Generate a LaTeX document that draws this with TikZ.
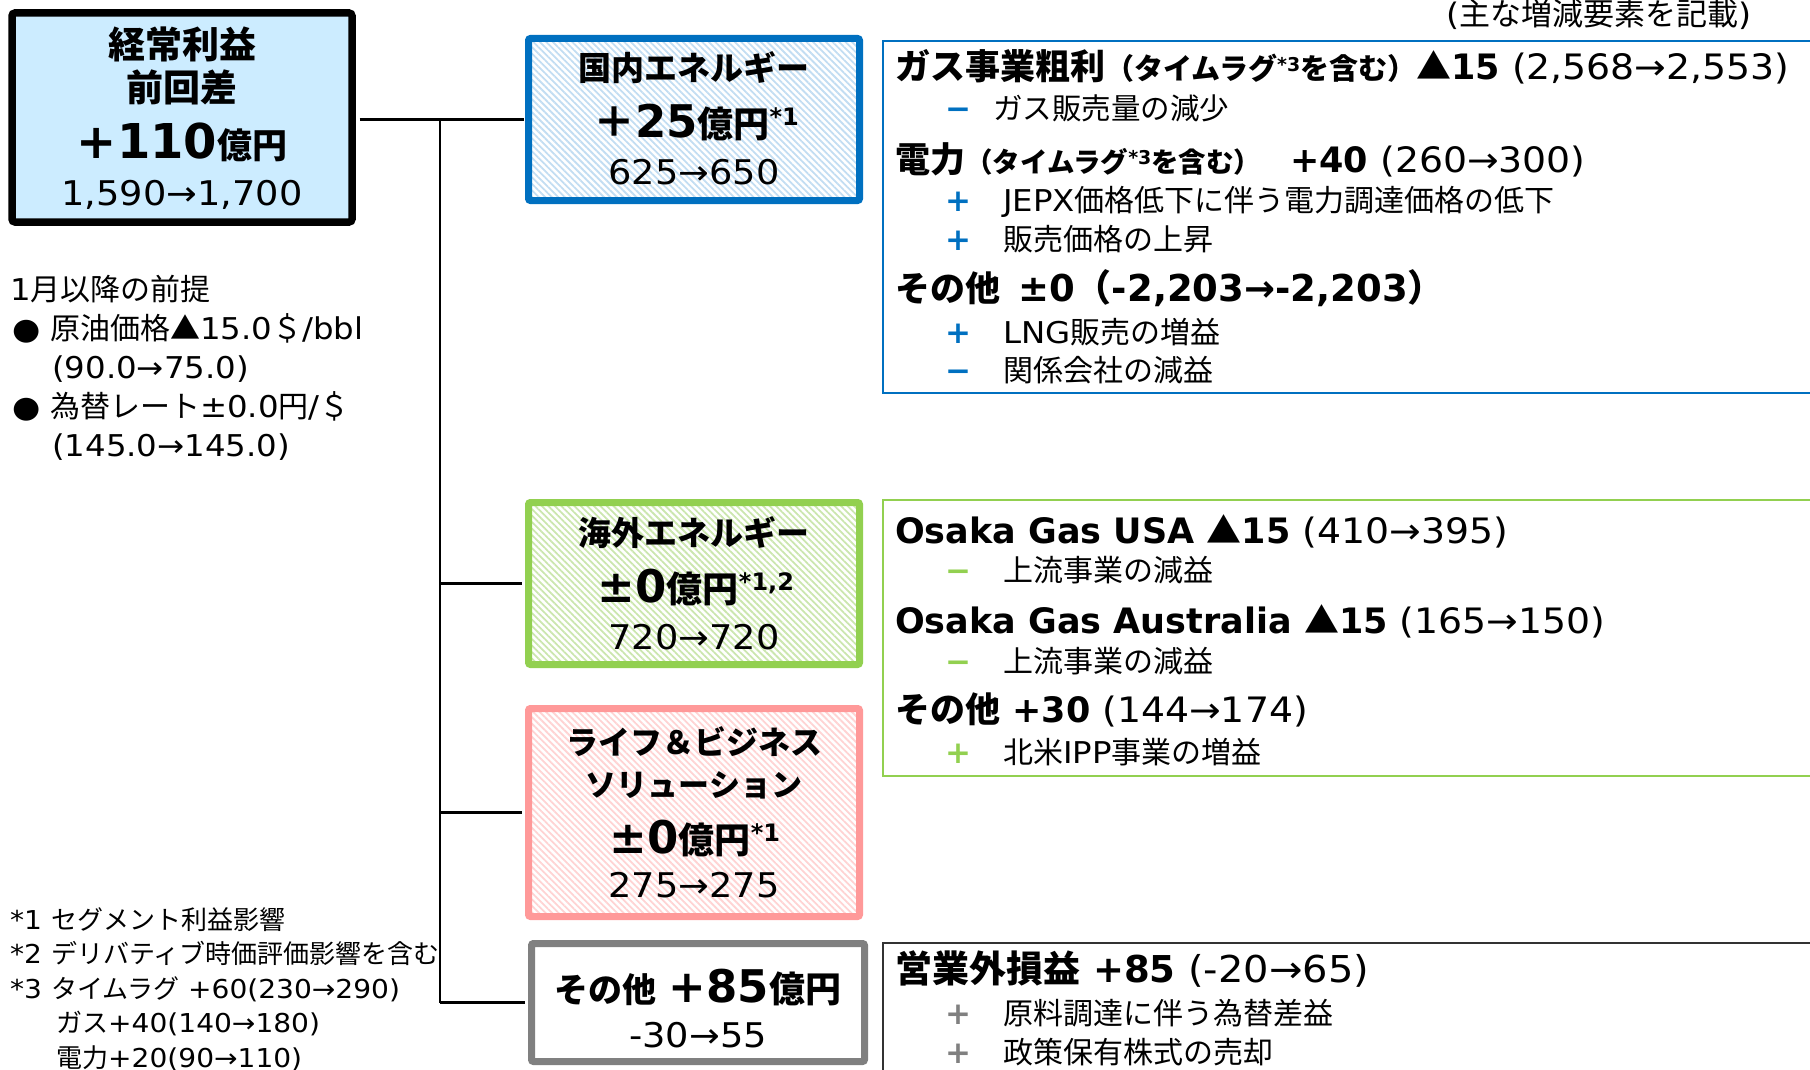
\documentclass[tikz,border=0pt]{standalone}
\usepackage{fontspec}
\setmainfont{DejaVu Sans}[UprightFeatures={FakeStretch=1.08}]
\newfontfamily\jp{Noto Sans CJK JP}
\usetikzlibrary{patterns.meta}

\definecolor{segblue}{HTML}{0070C0}
\definecolor{seggreen}{HTML}{92D050}
\definecolor{segpink}{HTML}{FF9999}
\definecolor{seggray}{HTML}{808080}
\definecolor{mainfill}{HTML}{CCECFF}
\definecolor{hatchblue}{HTML}{C2DDF2}
\definecolor{hatchgreen}{HTML}{CBE6AE}
\definecolor{hatchpink}{HTML}{FFD3D3}

\newcommand{\J}[1]{{\jp #1}}
\newcommand{\fs}[1]{\fontsize{#1}{#1}\selectfont}
\newcommand{\sups}[1]{\raisebox{12pt}{\fs{24}#1}}
\newcommand{\supsm}[1]{\raisebox{8pt}{\fs{19}#1}}

\tikzset{
  segbox/.style={draw, line width=7pt, rounded corners=2pt, minimum width=331pt,
    minimum height=162pt, inner sep=0pt},
  hatch/.style={pattern={Lines[angle=-45,distance=4.6pt,line width=1.8pt]}, pattern color=#1},
  conn/.style={line width=2.5pt},
  txt/.style={inner sep=0pt, anchor=base west},
  ctxt/.style={inner sep=0pt, anchor=base},
  sign/.style={inner sep=0pt, anchor=base west, font=\bfseries\fs{31}}
}

\begin{document}
\begin{tikzpicture}[x=1pt,y=-1pt]
\useasboundingbox (0,0) rectangle (1810,1070);

% boxes
\node[draw, line width=7.5pt, fill=mainfill, rounded corners=3pt, minimum width=340pt, minimum height=209pt, inner sep=0pt] (main) at (182,117.5) {};
\node[segbox, draw=segblue, hatch=hatchblue] (dom) at (694,119.5) {};
\node[segbox, draw=seggreen, hatch=hatchgreen] (ovs) at (694,583.5) {};
\node[segbox, draw=segpink, hatch=hatchpink, minimum height=208pt] (life) at (694,812.5) {};
\node[segbox, draw=seggray, fill=white, minimum width=333pt, minimum height=118pt] (oth) at (698,1002.5) {};

% connectors
\coordinate (trunk) at (440,0);
\draw[conn, shorten <=3.75pt, shorten >=3.5pt] (main.east |- dom.west) -- (dom.west);
\draw[conn] (trunk |- dom.west) -- (trunk |- oth.west);
\draw[conn, shorten >=3.5pt] (trunk |- ovs.west) -- (ovs.west);
\draw[conn, shorten >=3.5pt] (trunk |- life.west) -- (life.west);
\draw[conn, shorten >=3.5pt] (trunk |- oth.west) -- (oth.west);

% main box
\node[ctxt] (m1) at (182,59) {\bfseries\fs{37}\J{経常利益}};
\node[ctxt] (m2) at (182,102) {\bfseries\fs{37}\J{前回差}};
\node[ctxt] (m3) at (182,158) {\bfseries\fs{48}+110{\fs{35}\J{億円}}};
\node[ctxt] (m4) at (182,205) {\fs{34}1,590→1,700};

% segment boxes
\node[ctxt] (d1) at (694,81) {\bfseries\fs{33}\J{国内エネルギー}};
\node[ctxt] (d2) at (696,138) {\bfseries{\fs{42}\J{＋}}\fs{45}25{\fs{36}\J{億円}}\sups{*1}};
\node[ctxt] (d3) at (694,185) {\fs{34}625→650};
\node[ctxt] (g1) at (694,545) {\bfseries\fs{33}\J{海外エネルギー}};
\node[ctxt] (g2) at (696,602) {\bfseries\fs{45}±0{\fs{36}\J{億円}}\sups{*1,2}};
\node[ctxt] (g3) at (694,649) {\fs{34}720→720};
\node[ctxt] (p1) at (694,754) {\bfseries\fs{32}\J{ライフ＆ビジネス}};
\node[ctxt] (p2) at (694,796) {\bfseries\fs{31}\J{ソリューション}};
\node[ctxt] (p3) at (695,853) {\bfseries\fs{45}±0{\fs{36}\J{億円}}\sups{*1}};
\node[ctxt] (p4) at (694,897) {\fs{34}275→275};
\node[ctxt] (o1) at (698,1002) {\bfseries{\fs{34}\J{その他}}\hspace{12pt}\fs{45}+85{\fs{36}\J{億円}}};
\node[ctxt] (o2) at (698,1047) {\fs{34}-30→55};

% assumptions and notes
\node[txt] (pre) at (10,300) {\fs{30}1\J{月以降の前提}};
\node[txt] (bul1) at (12,339) {\fs{30}●};
\node[txt] (oil) at (50,339) {\fs{30}\J{原油価格▲}15.0\J{＄}/bbl};
\node[txt] (oil2) at (52,378) {\fs{30}(90.0→75.0)};
\node[txt] (bul2) at (12,417) {\fs{30}●};
\node[txt] (fx) at (50,417) {\fs{30}\J{為替レート}±0.0\J{円}/\J{＄}};
\node[txt] (fx2) at (52,456) {\fs{30}(145.0→145.0)};
\node[txt] (fn1) at (10,929) {\fs{26}*1 \J{セグメント利益影響}};
\node[txt] (fn2) at (10,963.5) {\fs{26}*2 \J{デリバティブ時価評価影響を含む}};
\node[txt] (fn3) at (10,998) {\fs{26}*3 \J{タイムラグ} +60(230→290)};
\node[txt] (fn4) at (56,1032.5) {\fs{26}\J{ガス}+40(140→180)};
\node[txt] (fn5) at (56,1067) {\fs{26}\J{電力}+20(90→110)};
\node[txt] (head) at (1446,26) {\fs{31}(\J{主な増減要素を記載})};

% domestic details
\draw[segblue, line width=2.2pt] (1812,41) -- (883,41) -- (883,393) -- (1812,393);
\node[txt] (gas) at (895,80) {\fs{35}{\bfseries\J{ガス事業粗利}{\fs{29}\J{（タイムラグ}\supsm{*3}\J{を含む）}}\J{▲}15} (2,568→2,553)};
\node[sign, text=segblue] (gasm) at (945,120) {−};
\node[txt] (gasa) at (993,120) {\fs{29.5}\J{ガス販売量の減少}};
\node[txt] (pow) at (895,172) {\fs{35}\bfseries\J{電力}{\fs{27.5}\J{（タイムラグ}\supsm{*3}\J{を含む）}}};
\node[txt] (powv) at (1290,172) {\fs{35}{\bfseries+40} (260→300)};
\node[sign, text=segblue] (powp1) at (945,211) {+};
\node[txt] (powa) at (1003,211) {\fs{30}JEPX\J{価格低下に伴う電力調達価格の低下}};
\node[sign, text=segblue] (powp2) at (945,250) {+};
\node[txt] (powb) at (1003,250) {\fs{30}\J{販売価格の上昇}};
\node[txt] (etc) at (895,301) {\fs{35}\bfseries\J{その他}\hspace{18pt}{\fs{37}±0\J{（}-2,203→-2,203\J{）}}};
\node[sign, text=segblue] (etcp) at (945,343) {+};
\node[txt] (etca) at (1003,343) {\fs{30}LNG\J{販売の増益}};
\node[sign, text=segblue] (etcm) at (945,381) {−};
\node[txt] (etcb) at (1003,381) {\fs{30}\J{関係会社の減益}};

% overseas details
\draw[seggreen, line width=2.2pt] (1812,500) -- (883,500) -- (883,776) -- (1812,776);
\node[txt] (usa) at (895,543) {\fs{35}{\bfseries Osaka Gas USA \J{▲}15} (410→395)};
\node[sign, text=seggreen] (usam) at (945,581) {−};
\node[txt] (usaa) at (1003,581) {\fs{30}\J{上流事業の減益}};
\node[txt] (aus) at (895,633) {\fs{35}{\bfseries Osaka Gas Australia \J{▲}15} (165→150)};
\node[sign, text=seggreen] (ausm) at (945,672) {−};
\node[txt] (ausa) at (1003,672) {\fs{30}\J{上流事業の減益}};
\node[txt] (ovsetc) at (895,722) {\fs{35}{\bfseries\J{その他} +30} (144→174)};
\node[sign, text=seggreen] (ovsp) at (945,763) {+};
\node[txt] (ovsa) at (1003,763) {\fs{30}\J{北米}IPP\J{事業の増益}};

% other details
\draw[black!80, line width=2.2pt] (1812,943) -- (883,943) -- (883,1072);
\node[txt] (nonop) at (895,982) {\fs{37}{\bfseries\J{営業外損益} +85} (-20→65)};
\node[sign, text=seggray] (nonp1) at (945,1024) {+};
\node[txt] (nona) at (1003,1024) {\fs{30}\J{原料調達に伴う為替差益}};
\node[sign, text=seggray] (nonp2) at (945,1063) {+};
\node[txt] (nonb) at (1003,1063) {\fs{30}\J{政策保有株式の売却}};
\end{tikzpicture}
\end{document}
